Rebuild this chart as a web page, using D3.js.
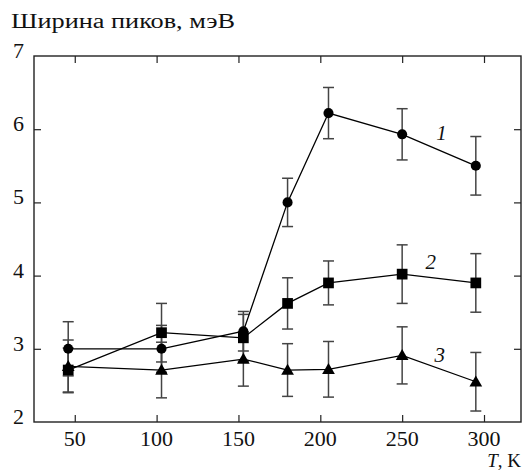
<!DOCTYPE html>
<html>
<head>
<meta charset="utf-8">
<script src="https://cdn.jsdelivr.net/npm/d3@7"></script>
<style>
body { margin:0; background:#fff; }
text { font-family:"Liberation Serif", "Times New Roman", Times, serif; fill:#111; }
</style>
</head>
<body>
<div id="chart"></div>
<script>
const width = 523
const height = 470

const margin = {
    top:56,
    bottom:48,
    left:34,
    right:2
}

// temperatures, K
const temps = [46, 103, 153, 180, 205, 250, 295]

// peak widths, meV, and error half-widths
const width1 = [3.0, 3.0, 3.24, 5.0, 6.22, 5.93, 5.50]
const err1   = [0.37, 0.32, 0.27, 0.33, 0.35, 0.35, 0.4]
const width2 = [2.71, 3.22, 3.15, 3.62, 3.90, 4.02, 3.90]
const err2   = [0.3, 0.4, 0.32, 0.35, 0.3, 0.4, 0.4]
const width3 = [2.76, 2.71, 2.86, 2.71, 2.72, 2.91, 2.55]
const err3   = [0.36, 0.38, 0.37, 0.36, 0.38, 0.39, 0.4]

const xTicks = [50, 100, 150, 200, 250, 300]
const yTicks = [2, 3, 4, 5, 6, 7]

const seriesLabels = ["1", "2", "3"]
const labelPos = [[274, 5.95], [267.5, 4.18], [273, 2.92]]

const series = [
    {values:width1, errors:err1, marker:"circle"},
    {values:width2, errors:err2, marker:"square"},
    {values:width3, errors:err3, marker:"triangle"}
]

const svg = d3.select("div#chart").append("svg").attr("width",width).attr("height",height)

const innerW = width - margin.left - margin.right
const innerH = height - margin.top - margin.bottom

const x = d3.scaleLinear().domain([25.1, 322.6]).range([0, innerW])
const y = d3.scaleLinear().domain([2, 7]).range([innerH, 0])

const elementGroup = svg.append("g").attr("transform",`translate(${margin.left},${margin.top})`)

// frame with inward ticks on all four sides
const axisGroup = elementGroup.append("g").attr("class","axisGroup")
const tickLen = 7
const innerX = xTicks
const innerY = yTicks.filter(d => d > 2 && d < 7)

axisGroup.append("g").attr("transform",`translate(0,${innerH})`)
    .call(d3.axisBottom(x).tickValues(innerX).tickSize(-tickLen).tickFormat(""))
axisGroup.append("g")
    .call(d3.axisTop(x).tickValues(innerX).tickSize(-tickLen).tickFormat(""))
axisGroup.append("g")
    .call(d3.axisLeft(y).tickValues(innerY).tickSize(-tickLen).tickFormat(""))
axisGroup.append("g").attr("transform",`translate(${innerW},0)`)
    .call(d3.axisRight(y).tickValues(innerY).tickSize(-tickLen).tickFormat(""))

axisGroup.selectAll(".domain").remove()
axisGroup.selectAll(".tick line").attr("stroke","#222").attr("stroke-width",1.2)

axisGroup.append("rect")
    .attr("x",0).attr("y",0).attr("width",innerW).attr("height",innerH)
    .attr("fill","none").attr("stroke","#222").attr("stroke-width",1.4)

// tick labels
elementGroup.selectAll("text.xLabel").data(xTicks).enter()
    .append("text")
    .attr("class","xLabel")
    .attr("x", d => x(d))
    .attr("y", innerH + 24)
    .attr("text-anchor","middle")
    .attr("font-size",22)
    .text(d => d)

elementGroup.selectAll("text.yLabel").data(yTicks).enter()
    .append("text")
    .attr("class","yLabel")
    .attr("x", -10)
    .attr("y", d => y(d) + 2)
    .attr("text-anchor","end")
    .attr("font-size",22)
    .text(d => d)

// error bars
const capW = 5.5
const errGroup = elementGroup.append("g").attr("class","errGroup")
series.forEach(s => {
    temps.forEach((t, i) => {
        const cx = x(t)
        const y0 = y(s.values[i] - s.errors[i])
        const y1 = y(s.values[i] + s.errors[i])
        const g = errGroup.append("g").attr("stroke","#444").attr("stroke-width",1.5)
        g.append("line").attr("x1",cx).attr("x2",cx).attr("y1",y0).attr("y2",y1)
        g.append("line").attr("x1",cx-capW).attr("x2",cx+capW).attr("y1",y0).attr("y2",y0)
        g.append("line").attr("x1",cx-capW).attr("x2",cx+capW).attr("y1",y1).attr("y2",y1)
    })
})

// lines and markers
const line = d3.line().x(d => x(d[0])).y(d => y(d[1]))
const markerGroup = elementGroup.append("g").attr("class","markerGroup")
const symbols = {
    circle: d3.symbol().type(d3.symbolCircle).size(80),
    square: d3.symbol().type(d3.symbolSquare).size(115),
    triangle: d3.symbol().type(d3.symbolTriangle).size(70)
}

series.forEach(s => {
    const pts = temps.map((t, i) => [t, s.values[i]])
    elementGroup.append("path")
        .datum(pts)
        .attr("d", line)
        .attr("fill","none")
        .attr("stroke","#000")
        .attr("stroke-width",1.3)
    markerGroup.selectAll(null).data(pts).enter()
        .append("path")
        .attr("d", symbols[s.marker])
        .attr("transform", d => `translate(${x(d[0])},${y(d[1]) + (s.marker == "triangle" ? 1 : 0)})`)
        .attr("fill","#000")
})

// curve numbers
elementGroup.selectAll("text.curveLabel").data(seriesLabels).enter()
    .append("text")
    .attr("class","curveLabel")
    .attr("x", (d, i) => x(labelPos[i][0]))
    .attr("y", (d, i) => y(labelPos[i][1]) + 7)
    .attr("text-anchor","middle")
    .attr("font-size",21)
    .attr("font-style","italic")
    .text(d => d)

// titles
svg.append("text")
    .attr("x",11)
    .attr("y",28)
    .attr("font-size",20)
    .attr("textLength",224)
    .attr("lengthAdjust","spacingAndGlyphs")
    .text("Ширина пиков, мэВ")

const xTitle = svg.append("text")
    .attr("x",521)
    .attr("y",467)
    .attr("text-anchor","end")
    .attr("font-size",19)
xTitle.append("tspan").attr("font-style","italic").text("T")
xTitle.append("tspan").text(", K")
</script>
</body>
</html>
